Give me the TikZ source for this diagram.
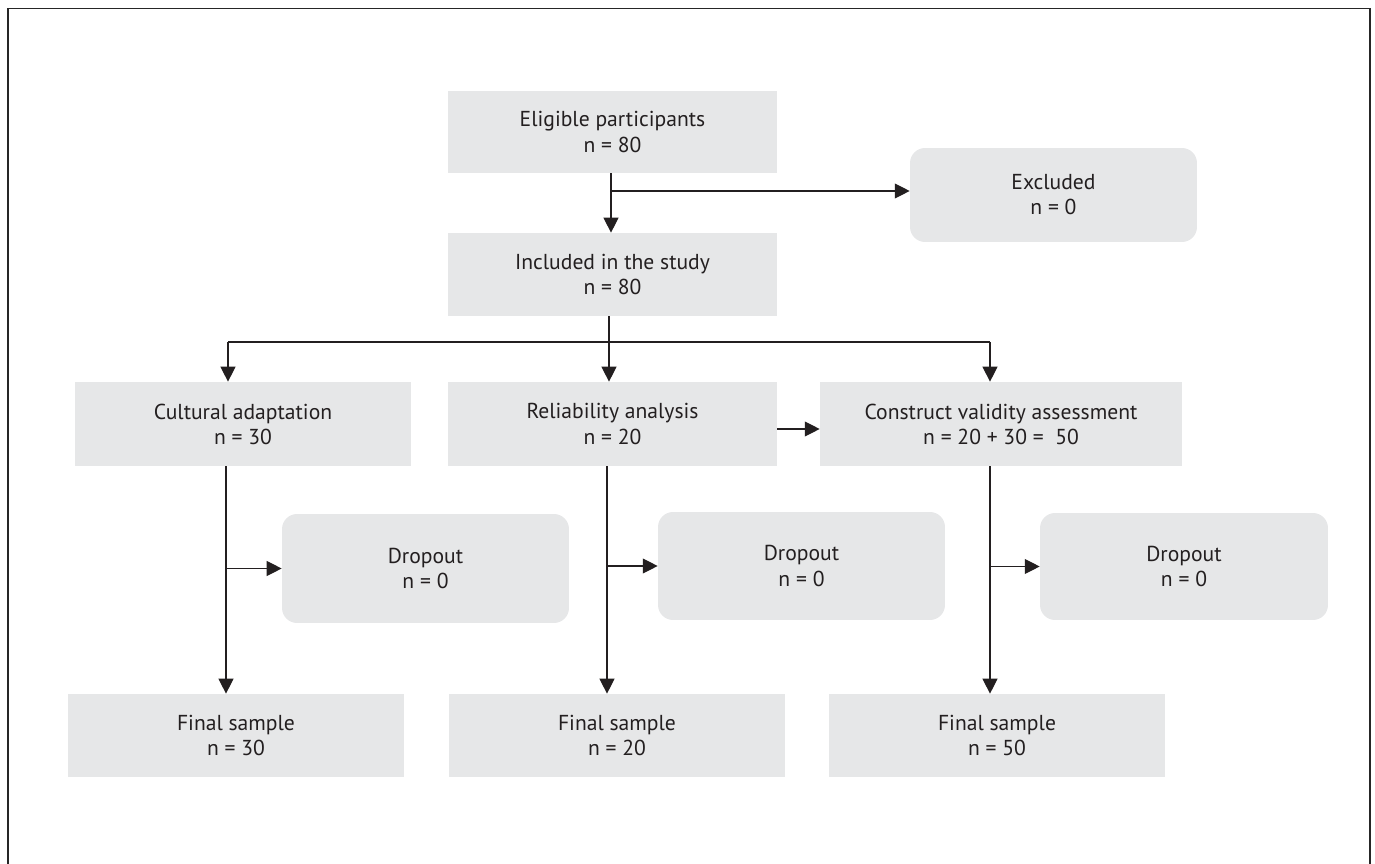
\documentclass[tikz,border=0pt]{standalone}
\usepackage{fontspec}
\setmainfont{PT Sans}
\usetikzlibrary{arrows.meta}
\definecolor{boxgray}{HTML}{E6E7E8}
\definecolor{ink}{HTML}{231F20}
\begin{document}
\begin{tikzpicture}[x=0.02cm,y=-0.02cm,
  box/.style={fill=boxgray, draw=none, align=center, text=ink, inner sep=0pt,
    font=\fontsize{12.3}{14.3}\selectfont},
  rbox/.style={box, rounded corners=0.3cm},
  arr/.style={draw=ink, line width=0.65pt, -{Triangle[length=8.5pt,width=8.5pt]}},
  ln/.style={draw=ink, line width=0.65pt}]
\useasboundingbox (0,0) rectangle (1375,864);
\draw[line width=0.9pt, draw=black!85] (8,870) -- (8,8.5) -- (1370,8.5) -- (1370,870);

\node[box, minimum width=6.58cm, minimum height=1.64cm] (elig) at (612.5,132) {Eligible participants\\n = 80};
\node[rbox, minimum width=5.74cm, minimum height=1.88cm] (excl) at (1053.5,195) {Excluded\\n = 0};
\node[box, minimum width=6.58cm, minimum height=1.66cm] (incl) at (612.5,274.5) {Included in the study\\n = 80};

\node[box, minimum width=6.72cm, minimum height=1.68cm] (cult) at (243,424) {Cultural adaptation\\n = 30};
\node[box, minimum width=6.58cm, minimum height=1.68cm] (rel) at (612.5,424) {Reliability analysis\\n = 20};
\node[box, minimum width=7.24cm, minimum height=1.68cm] (cons) at (1001,424) {Construct validity assessment\\n = 20 + 30 = \ 50};

\node[rbox, minimum width=5.74cm, minimum height=2.18cm] (drop1) at (425.5,568.5) {Dropout\\n = 0};
\node[rbox, minimum width=5.74cm, minimum height=2.16cm] (drop2) at (801.5,566) {Dropout\\n = 0};
\node[rbox, minimum width=5.76cm, minimum height=2.14cm] (drop3) at (1184,566.5) {Dropout\\n = 0};

\node[box, minimum width=6.72cm, minimum height=1.66cm] (fin1) at (236,735.5) {Final sample\\n = 30};
\node[box, minimum width=6.72cm, minimum height=1.66cm] (fin2) at (617,735.5) {Final sample\\n = 20};
\node[box, minimum width=6.72cm, minimum height=1.66cm] (fin3) at (997,735.5) {Final sample\\n = 50};

% top part
\coordinate (b1) at (611,191);
\draw[arr] (elig.south -| b1) -- (incl.north -| b1);
\draw[arr] (b1) -- (b1 -| excl.west);

% split
\coordinate (s0) at (609,342);
\coordinate (sL) at (228,342);
\coordinate (sR) at (990,342);
\draw[ln] (incl.south -| s0) -- (s0);
\draw[ln] (sL) -- (sR);
\draw[arr] (sL) -- (sL |- cult.north);
\draw[arr] (s0) -- (s0 |- rel.north);
\draw[arr] (sR) -- (sR |- cons.north);

% reliability -> construct
\coordinate (rc) at (777,429);
\draw[arr] (rc) -- (rc -| cons.west);

% columns
\coordinate (v1) at (226,466);
\coordinate (v2) at (607,466);
\coordinate (v3) at (990,466);
\draw[arr] (v1) -- (v1 |- fin1.north);
\draw[arr] (v2) -- (v2 |- fin2.north);
\draw[arr] (v3) -- (v3 |- fin3.north);
\draw[arr] (v1 |- drop1.west) -- (drop1.west);
\draw[arr] (v2 |- drop2.west) -- (drop2.west);
\draw[arr] (v3 |- drop3.west) -- (drop3.west);
\end{tikzpicture}
\end{document}
